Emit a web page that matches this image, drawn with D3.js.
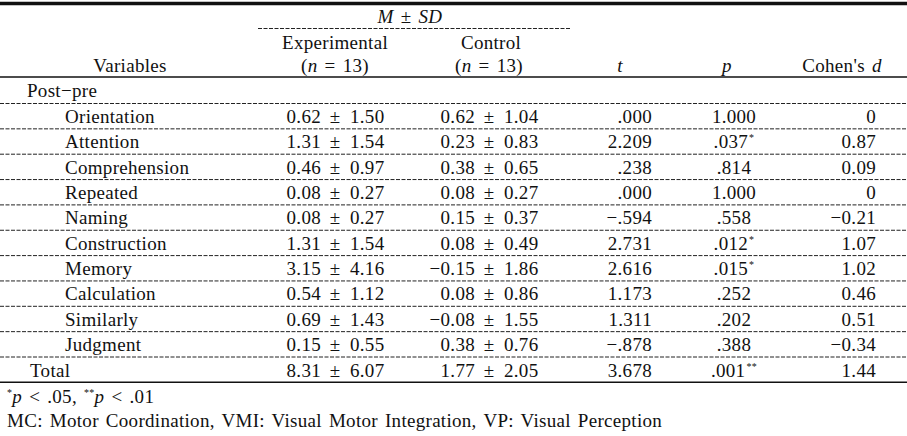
<!DOCTYPE html>
<html>
<head>
<meta charset="utf-8">
<script src="https://cdn.jsdelivr.net/npm/d3@7"></script>
<style>
  html, body { margin: 0; padding: 0; background: #fff; }
  svg { display: block; }
  text { font-family: 'Liberation Serif', 'Times New Roman', serif; font-size: 19px; fill: #111; letter-spacing: 0.3px; word-spacing: 2px; }
</style>
</head>
<body>
<svg id="chart" width="907" height="436"></svg>
<script>
// ---- data ----
const groupLabel = "Post\u2212pre";
const variables = ["Orientation", "Attention", "Comprehension", "Repeated", "Naming", "Construction", "Memory", "Calculation", "Similarly", "Judgment"];
const totalLabel = "Total";
const expMean = [0.62, 1.31, 0.46, 0.08, 0.08, 1.31, 3.15, 0.54, 0.69, 0.15, 8.31];
const expSD   = [1.50, 1.54, 0.97, 0.27, 0.27, 1.54, 4.16, 1.12, 1.43, 0.55, 6.07];
const ctlMean = [0.62, 0.23, 0.38, 0.08, 0.15, 0.08, -0.15, 0.08, -0.08, 0.38, 1.77];
const ctlSD   = [1.04, 0.83, 0.65, 0.27, 0.37, 0.49, 1.86, 0.86, 1.55, 0.76, 2.05];
const tVals   = [0.000, 2.209, 0.238, 0.000, -0.594, 2.731, 2.616, 1.173, 1.311, -0.878, 3.678];
const pVals   = [1.000, 0.037, 0.814, 1.000, 0.558, 0.012, 0.015, 0.252, 0.202, 0.388, 0.001];
const pStars  = ["", "*", "", "", "", "*", "*", "", "", "", "**"];
const dVals   = [0, 0.87, 0.09, 0, -0.21, 1.07, 1.02, 0.46, 0.51, -0.34, 1.44];
const footnote2 = "MC: Motor Coordination, VMI: Visual Motor Integration, VP: Visual Perception";

// ---- layout ----
const W = 907;
const svg = d3.select("#chart");
const rowLabels = variables.concat([totalLabel]);
const nRows = rowLabels.length;

// row index -> top line y
const yLine = d3.scaleLinear().domain([0, 1]).range([103, 128.35]);
const rowBase = i => yLine(i) + 20;

const col = { label: 65, total: 30, exp: 335, ctl: 489, t: 652, p: 734, d: 876 };

const f2 = d3.format(".2f");
const f3 = d3.format(".3f");
const stripZero = s => s.replace(/^(\u2212?)0\./, "$1.");
const fmtT = v => stripZero(f3(v));
const fmtP = v => v >= 1 ? f3(v) : stripZero(f3(v));
const fmtD = v => v === 0 ? "0" : f2(v);

// ---- rules ----
svg.append("line").attr("x1", 0).attr("x2", W).attr("y1", 3.5).attr("y2", 3.5)
  .attr("stroke", "#111").attr("stroke-width", 3.5);
svg.append("line").attr("x1", 258).attr("x2", 570).attr("y1", 28.5).attr("y2", 28.5)
  .attr("stroke", "#222").attr("stroke-width", 1).attr("stroke-dasharray", "4,1.5");
svg.append("line").attr("x1", 0).attr("x2", W).attr("y1", 77).attr("y2", 77)
  .attr("stroke", "#111").attr("stroke-width", 1.5);
svg.selectAll("line.dash").data(d3.range(nRows)).join("line").attr("class", "dash")
  .attr("x1", 0).attr("x2", W)
  .attr("y1", i => yLine(i) + 0.5).attr("y2", i => yLine(i) + 0.5)
  .attr("stroke", "#222").attr("stroke-width", 1).attr("stroke-dasharray", "4,1.5");
svg.append("line").attr("x1", 0).attr("x2", W).attr("y1", yLine(nRows) + 0.5).attr("y2", yLine(nRows) + 0.5)
  .attr("stroke", "#111").attr("stroke-width", 1.5);

// ---- header ----
const msd = svg.append("text").attr("x", 410).attr("y", 23).attr("text-anchor", "middle");
msd.append("tspan").attr("font-style", "italic").text("M");
msd.append("tspan").text(" \u00b1 ");
msd.append("tspan").attr("font-style", "italic").text("SD");

svg.append("text").attr("x", col.exp).attr("y", 49).attr("text-anchor", "middle").text("Experimental");
svg.append("text").attr("x", col.ctl + 2).attr("y", 49).attr("text-anchor", "middle").text("Control");
[col.exp, col.ctl].forEach(cx => {
  const t = svg.append("text").attr("x", cx).attr("y", 72).attr("text-anchor", "middle");
  t.append("tspan").text("(");
  t.append("tspan").attr("font-style", "italic").text("n");
  t.append("tspan").text(" = 13)");
});
svg.append("text").attr("x", 130).attr("y", 72).attr("text-anchor", "middle").text("Variables");
svg.append("text").attr("x", 620).attr("y", 72).attr("text-anchor", "middle").attr("font-style", "italic").text("t");
svg.append("text").attr("x", 727).attr("y", 72).attr("text-anchor", "middle").attr("font-style", "italic").text("p");
const ch = svg.append("text").attr("x", 842).attr("y", 72).attr("text-anchor", "middle");
ch.append("tspan").text("Cohen's ");
ch.append("tspan").attr("font-style", "italic").text("d");

svg.append("text").attr("x", 27).attr("y", 97).text(groupLabel);

// ---- body ----
const rows = svg.selectAll("g.row").data(d3.range(nRows)).join("g").attr("class", "row");

rows.append("text")
  .attr("x", i => i === nRows - 1 ? col.total : col.label)
  .attr("y", rowBase)
  .text(i => rowLabels[i]);

function pm(sel, cx, means, sds) {
  sel.append("text").attr("x", cx - 14).attr("y", rowBase).attr("text-anchor", "end").text(i => f2(means[i]));
  sel.append("text").attr("x", cx).attr("y", rowBase).attr("text-anchor", "middle").text("\u00b1");
  sel.append("text").attr("x", cx + 15).attr("y", rowBase).attr("text-anchor", "start").text(i => f2(sds[i]));
}
pm(rows, col.exp, expMean, expSD);
pm(rows, col.ctl, ctlMean, ctlSD);

rows.append("text").attr("x", col.t).attr("y", rowBase).attr("text-anchor", "end").text(i => fmtT(tVals[i]));

const pt = rows.append("text").attr("x", col.p).attr("y", rowBase).attr("text-anchor", "middle");
pt.append("tspan").text(i => fmtP(pVals[i]));
pt.append("tspan").attr("font-size", "10px").attr("dx", 1).attr("dy", -7).text(i => pStars[i]);

rows.append("text").attr("x", col.d).attr("y", rowBase).attr("text-anchor", "end").text(i => fmtD(dVals[i]));

// ---- footnotes ----
const fn1 = svg.append("text").attr("x", 7).attr("y", 403);
fn1.append("tspan").attr("font-size", "10px").attr("dy", -7).text("*");
fn1.append("tspan").attr("font-style", "italic").attr("dy", 7).text("p");
fn1.append("tspan").text(" < .05, ");
fn1.append("tspan").attr("font-size", "10px").attr("dy", -7).text("**");
fn1.append("tspan").attr("font-style", "italic").attr("dy", 7).text("p");
fn1.append("tspan").text(" < .01");

svg.append("text").attr("x", 7).attr("y", 427).text(footnote2);
</script>
</body>
</html>
